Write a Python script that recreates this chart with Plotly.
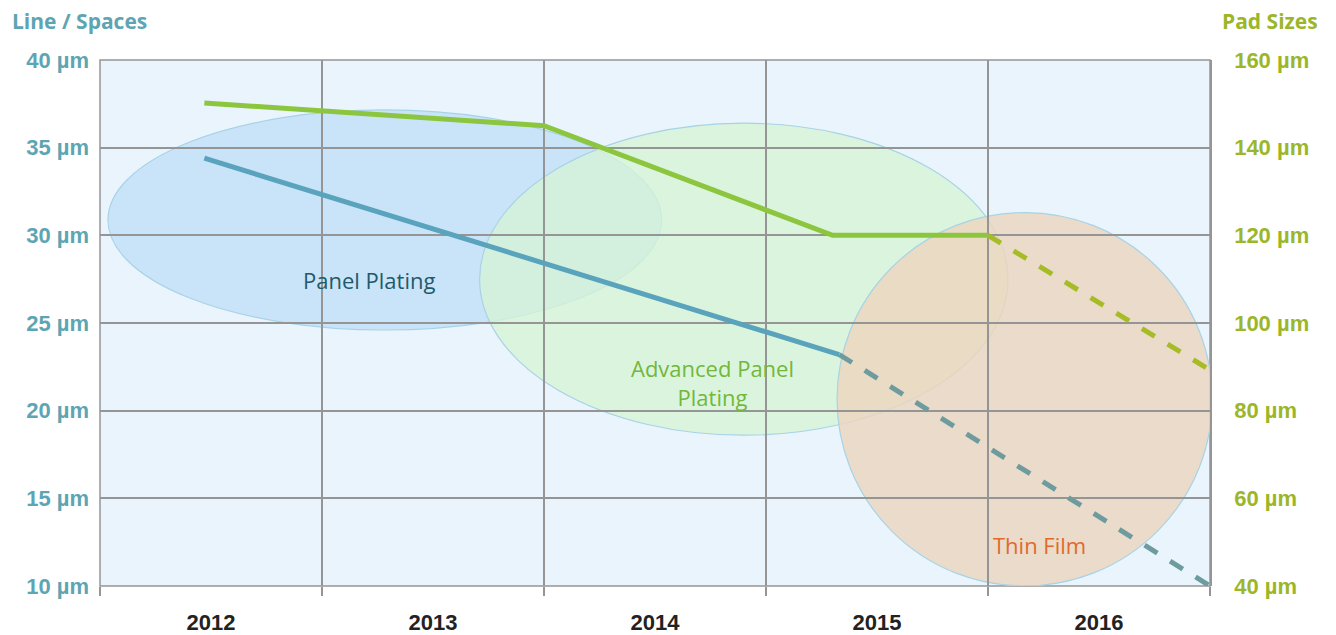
import plotly.graph_objects as go

years = ["2012", "2013", "2014", "2015", "2016"]
year_pos = [0.5, 1.5, 2.5, 3.5, 4.5]

# Line / Spaces (left axis, µm)
ls_solid_x = [0.47, 2.0, 3.33]
ls_solid_y = [34.4, 28.4, 23.2]
ls_dash_x = [3.33, 5.0]
ls_dash_y = [23.2, 10.0]

# Pad Sizes (right axis, µm)
pad_solid_x = [0.47, 2.0, 3.3, 4.0]
pad_solid_y = [150.2, 145.0, 120.0, 120.0]
pad_dash_x = [4.0, 5.0]
pad_dash_y = [120.0, 89.3]

left_ticks = [10, 15, 20, 25, 30, 35, 40]
right_ticks = [40, 60, 80, 100, 120, 140, 160]

# Technology regions (x0, x1, y0, y1 in left-axis units)
region_names = ["Panel Plating", "Advanced Panel<br>Plating", "Thin Film"]
region_x0 = [0.036, 1.71, 3.32]
region_x1 = [2.53, 4.09, 5.01]
region_y0 = [24.6, 18.6, 10.0]
region_y1 = [37.15, 36.4, 31.3]
region_label_x = [1.21, 2.76, 4.23]
region_label_y = [27.45, 21.6, 12.35]
region_fill = ["rgba(192,223,247,0.78)", "rgba(214,244,212,0.75)", "rgba(236,214,190,0.82)"]
region_text_color = ["#1E5A6B", "#72B83A", "#E06A2C"]

fig = go.Figure()

for i in range(3):
    fig.add_shape(type="circle", xref="x", yref="y",
                  x0=region_x0[i], x1=region_x1[i], y0=region_y0[i], y1=region_y1[i],
                  fillcolor=region_fill[i], line=dict(color="#A8D3E6", width=1.2),
                  layer="below")
    fig.add_annotation(x=region_label_x[i], y=region_label_y[i], xref="x", yref="y",
                       text=region_names[i], showarrow=False,
                       font=dict(family="Open Sans", size=22, color=region_text_color[i]))

fig.add_trace(go.Scatter(x=ls_solid_x, y=ls_solid_y, mode="lines",
                         line=dict(color="#5AA3BD", width=5), showlegend=False))
fig.add_trace(go.Scatter(x=ls_dash_x, y=ls_dash_y, mode="lines",
                         line=dict(color="#6E9C9E", width=5, dash="dash"), showlegend=False))
fig.add_trace(go.Scatter(x=pad_solid_x, y=pad_solid_y, mode="lines", yaxis="y2",
                         line=dict(color="#8CC63F", width=5), showlegend=False))
fig.add_trace(go.Scatter(x=pad_dash_x, y=pad_dash_y, mode="lines", yaxis="y2",
                         line=dict(color="#A6BC26", width=5, dash="dash"), showlegend=False))

fig.update_layout(
    width=1336, height=635,
    margin=dict(l=92, r=134, t=52, b=57),
    paper_bgcolor="white",
    plot_bgcolor="#E9F4FC",
    xaxis=dict(range=[0, 5], tickvals=year_pos, ticktext=years, showgrid=False,
               ticks="", zeroline=False, showline=False, automargin=False,
               ticklabelstandoff=21,
               tickfont=dict(family="Liberation Sans", size=22, color="#222222", weight="bold"),
               minor=dict(tickvals=[0, 1, 2, 3, 4, 5], showgrid=True, gridcolor="#959595",
                          gridwidth=1.5, ticks="outside", ticklen=9, tickcolor="#959595",
                          tickwidth=1.5)),
    yaxis=dict(range=[10, 40], tickvals=left_ticks,
               ticktext=[f"{v} µm" for v in left_ticks],
               showgrid=True, gridcolor="#959595", gridwidth=1.5, zeroline=False,
               showline=False, ticks="", ticklabelstandoff=10, automargin=False,
               tickfont=dict(family="Liberation Sans", size=22, color="#5DA5B3", weight="bold")),
    yaxis2=dict(range=[40, 160], tickvals=right_ticks,
                ticktext=[f"{v} µm" for v in right_ticks],
                overlaying="y", side="right", showgrid=False, zeroline=False,
                showline=True, linecolor="#959595", linewidth=1.5, ticks="",
                ticklabelstandoff=18, automargin=False,
                tickfont=dict(family="Liberation Sans", size=22, color="#9CB62A", weight="bold")),
)

fig.add_annotation(xref="x domain", yref="y domain", x=-90/1110, y=1 + 55/526,
                   text="Line / Spaces", showarrow=False, xanchor="left", yanchor="top",
                   font=dict(family="Open Sans", size=21, color="#5DA5B3", weight="bold"))
fig.add_annotation(xref="x domain", yref="y domain", x=1 + 110/1110, y=1 + 55/526,
                   text="Pad Sizes", showarrow=False, xanchor="right", yanchor="top",
                   font=dict(family="Open Sans", size=21, color="#9CB62A", weight="bold"))

# border of plot area
fig.add_shape(type="rect", xref="x domain", yref="y domain", x0=0, x1=1, y0=0, y1=1,
              line=dict(color="#959595", width=1.5), fillcolor="rgba(0,0,0,0)", layer="below")

fig.write_html("out.html")
